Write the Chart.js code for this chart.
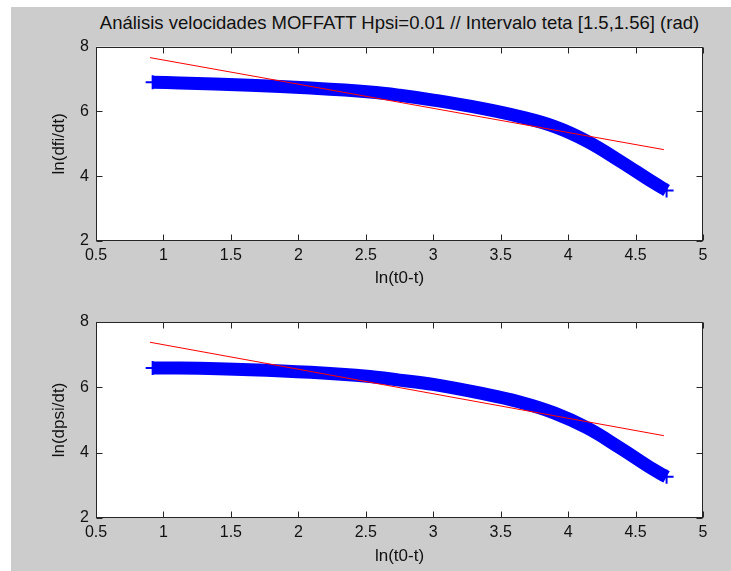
<!DOCTYPE html>
<html><head><meta charset="utf-8">
<script src="https://cdn.jsdelivr.net/npm/chart.js@4.4.1/dist/chart.umd.min.js"></script>
<style>
html,body{margin:0;padding:0;width:731px;height:571px;overflow:hidden;background:#fff;}
#fig{position:absolute;left:11px;top:7px;right:0;bottom:0;background:#cccccc;}
#title{position:absolute;left:399.5px;top:14px;transform:translateX(-50%);white-space:nowrap;font:18.5px/18px "Liberation Sans",Arial,sans-serif;color:#111;}
canvas{position:absolute;left:0;}
#c1{top:30px;width:731px;height:270px;}
#c2{top:300px;width:731px;height:271px;}
</style></head><body>
<div id="fig"></div>
<div id="title">Análisis velocidades MOFFATT Hpsi=0.01 // Intervalo teta [1.5,1.56] (rad)</div>
<canvas id="c1" width="731" height="270"></canvas>
<canvas id="c2" width="731" height="271"></canvas>
<script>
// ---- data ----
const blueX      = [0.92, 1.12, 1.64, 2.09, 2.53, 2.75, 3.00, 3.35, 3.64, 3.90, 4.14, 4.38, 4.63, 4.73];
const dfiBlue    = [6.90, 6.88, 6.81, 6.72, 6.60, 6.50, 6.35, 6.10, 5.84, 5.53, 5.08, 4.48, 3.81, 3.56];
const dpsiBlue   = [6.59, 6.59, 6.54, 6.46, 6.33, 6.22, 6.09, 5.82, 5.55, 5.21, 4.76, 4.16, 3.49, 3.26];
const fitX       = [0.90, 4.71];
const dfiFit     = [7.66, 4.82];
const dpsiFit    = [7.38, 4.52];
const xTickMin = 0.5, xTickMax = 5, xTickStep = 0.5;
const yTickMin = 2, yTickMax = 8, yTickStep = 2;
const xTitle = 'ln(t0-t)';
const yTitleTop = 'ln(dfi/dt)';
const yTitleBottom = 'ln(dpsi/dt)';

const FONT = '"Liberation Sans", Arial, sans-serif';
const TXT = '#111';

const boxPlugin = {
  id: 'box',
  beforeDraw(chart) {
    const {ctx, chartArea: a} = chart;
    ctx.save();
    ctx.fillStyle = '#ffffff';
    ctx.fillRect(a.left, a.top, a.right - a.left, a.bottom - a.top);
    ctx.restore();
  },
  afterDraw(chart) {
    const {ctx, chartArea: a} = chart;
    const x = chart.scales.x, y = chart.scales.y;
    ctx.save();
    ctx.strokeStyle = '#262626';
    ctx.lineWidth = 1;
    const L = Math.round(a.left) + 0.5, R = Math.round(a.right) - 0.5;
    const T = Math.round(a.top) + 0.5, B = Math.round(a.bottom) - 0.5;
    ctx.strokeRect(L, T, R - L, B - T);
    const len = 6;
    ctx.beginPath();
    x.ticks.forEach(t => {
      const px = Math.round(x.getPixelForValue(t.value)) + 0.5;
      ctx.moveTo(px, B); ctx.lineTo(px, B - len);
      ctx.moveTo(px, T); ctx.lineTo(px, T + len);
    });
    y.ticks.forEach(t => {
      const py = Math.round(y.getPixelForValue(t.value)) + 0.5;
      ctx.moveTo(L, py); ctx.lineTo(L + len, py);
      ctx.moveTo(R, py); ctx.lineTo(R - len, py);
    });
    ctx.stroke();
    ctx.restore();
  }
};

function pts(xs, ys) { return xs.map((v, i) => ({x: v, y: ys[i]})); }
const endRadius = ctx => (ctx.dataIndex === 0 || ctx.dataIndex === blueX.length - 1) ? 7 : 0;
const fmt = v => String(Math.round(v * 10) / 10);

function makeChart(id, blueY, fitY, yTitle, padTop, padBottom, xHeight) {
  return new Chart(document.getElementById(id), {
    type: 'line',
    data: {
      datasets: [
        {
          data: pts(fitX, fitY),
          borderColor: '#ff0000',
          borderWidth: 1,
          pointRadius: 0,
          tension: 0
        },
        {
          data: pts(blueX, blueY),
          borderColor: '#0000ff',
          borderWidth: 13,
          borderCapStyle: 'butt',
          borderJoinStyle: 'round',
          tension: 0.4,
          pointStyle: 'cross',
          pointRadius: endRadius,
          pointBorderWidth: 2,
          pointBorderColor: '#0000ff',
          pointBackgroundColor: '#0000ff'
        }
      ]
    },
    options: {
      responsive: false,
      animation: false,
      events: [],
      layout: {padding: {left: 48, right: 28, top: padTop, bottom: padBottom}},
      plugins: {legend: {display: false}, tooltip: {enabled: false}},
      scales: {
        x: {
          type: 'linear',
          min: xTickMin, max: xTickMax,
          ticks: {stepSize: xTickStep, padding: 5, color: TXT, font: {family: FONT, size: 16}, maxRotation: 0, autoSkip: false, callback: fmt},
          grid: {display: false, drawTicks: false},
          border: {display: false},
          title: {display: true, text: xTitle, color: TXT, font: {family: FONT, size: 17}, padding: 0},
          afterFit: s => { s.height = xHeight; }
        },
        y: {
          type: 'linear',
          min: yTickMin, max: yTickMax,
          ticks: {stepSize: yTickStep, padding: 7, color: TXT, font: {family: FONT, size: 16}, callback: fmt},
          grid: {display: false, drawTicks: false},
          border: {display: false},
          title: {display: true, text: yTitle, color: TXT, font: {family: FONT, size: 17}, padding: {top: 1, bottom: 0}},
          afterFit: s => { s.width = 48; }
        }
      }
    },
    plugins: [boxPlugin]
  });
}

makeChart('c1', dfiBlue, dfiFit, yTitleTop, 14, 11, 48);
makeChart('c2', dpsiBlue, dpsiFit, yTitleBottom, 22, 4, 49);
</script>
</body></html>
